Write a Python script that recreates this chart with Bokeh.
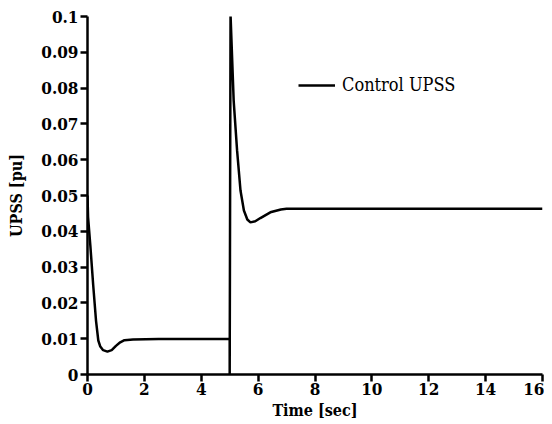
from bokeh.plotting import figure
from bokeh.models import Range1d, FixedTicker, Legend, LegendItem
from bokeh.embed import file_html
from bokeh.resources import INLINE

# Data
time_s = [0.0, 0.02, 0.1, 0.2, 0.3, 0.38, 0.45, 0.55, 0.7, 0.85, 1.0, 1.15, 1.3, 1.6,
          2.5, 4.0, 5.0, 5.0, 5.03, 5.14, 5.26, 5.38, 5.5, 5.62, 5.73, 5.9, 6.08,
          6.43, 6.8, 7.0, 8.0, 10.0, 12.0, 14.0, 16.0]
upss = [0.050, 0.044, 0.036, 0.025, 0.015, 0.0095, 0.0078, 0.0068, 0.0064, 0.0068,
        0.0080, 0.0090, 0.0096, 0.0098, 0.0099, 0.0099, 0.0100, 0.0, 0.1005, 0.0765,
        0.0626, 0.0514, 0.0458, 0.0433, 0.0425, 0.0428, 0.0437, 0.0453, 0.0461,
        0.0463, 0.0463, 0.0463, 0.0463, 0.0463, 0.0463]

x_ticks = [0, 2, 4, 6, 8, 10, 12, 14, 16]
y_ticks = [0, 0.01, 0.02, 0.03, 0.04, 0.05, 0.06, 0.07, 0.08, 0.09, 0.1]
y_tick_labels = ["0", "0.01", "0.02", "0.03", "0.04", "0.05", "0.06", "0.07", "0.08", "0.09", "0.1"]
series_name = "Control UPSS"

FONT = "DejaVu Serif Condensed"

p = figure(frame_width=455, frame_height=358, output_backend="svg", toolbar_location=None,
           x_range=Range1d(0, 16), y_range=Range1d(0, 0.1),
           min_border_left=87, min_border_right=2, min_border_top=16, min_border_bottom=40)
p.outline_line_color = None
p.xgrid.visible = False
p.ygrid.visible = False
p.background_fill_color = "white"

r = p.line(time_s, upss, line_color="black", line_width=2.5)

for ax in (p.xaxis[0], p.yaxis[0]):
    ax.axis_line_width = 2.5
    ax.axis_line_color = "black"
    ax.major_tick_line_width = 2.5
    ax.major_tick_line_color = "black"
    ax.major_tick_in = 0
    ax.major_tick_out = 7
    ax.minor_tick_line_color = None
    ax.major_label_text_font = FONT
    ax.major_label_text_font_style = "bold"
    ax.major_label_text_font_size = "17px"
    ax.major_label_text_color = "black"
    ax.axis_label_text_font = FONT
    ax.axis_label_text_font_style = "bold"
    ax.axis_label_text_font_size = "16px"
    ax.axis_label_text_color = "black"

p.xaxis.ticker = FixedTicker(ticks=x_ticks)
p.yaxis.ticker = FixedTicker(ticks=y_ticks)
p.yaxis.major_label_overrides = {t: l for t, l in zip(y_ticks, y_tick_labels)}
p.xaxis.axis_label = "Time [sec]"
p.yaxis.axis_label = "UPSS [pu]"
p.xaxis.major_label_standoff = 1
p.xaxis.axis_label_standoff = 3
p.yaxis.major_label_standoff = 2
p.yaxis.axis_label_standoff = 12

legend = Legend(items=[LegendItem(label=series_name, renderers=[r])],
                location=(211, 279), margin=0, padding=0, spacing=0,
                glyph_width=37, glyph_height=20, label_standoff=7,
                border_line_color=None, background_fill_alpha=0,
                label_text_font=FONT, label_text_font_style="normal",
                label_text_font_size="18px", label_text_color="black")
p.add_layout(legend, "center")

open("out.html", "w").write(file_html(p, INLINE))
